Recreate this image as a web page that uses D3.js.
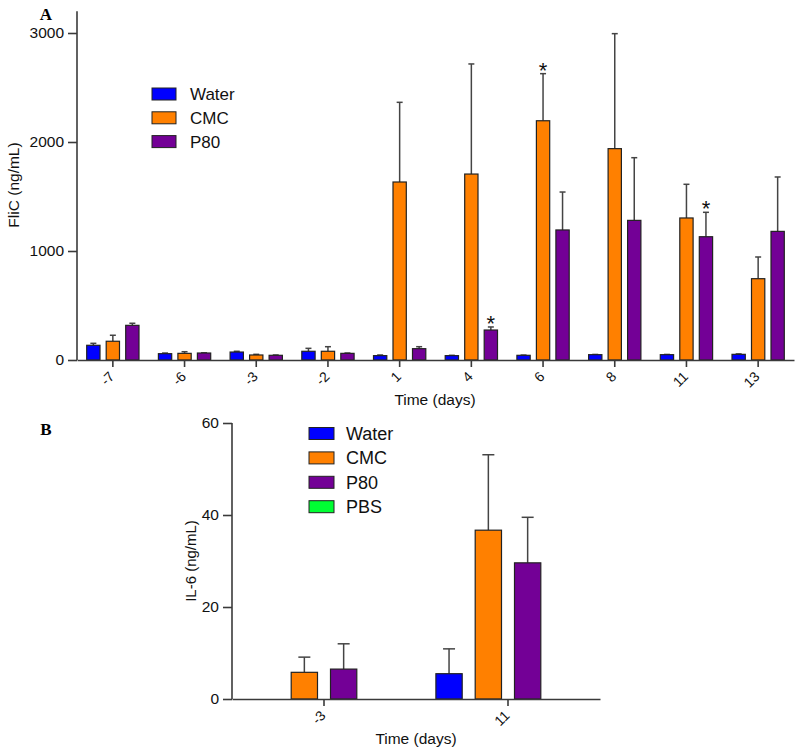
<!DOCTYPE html>
<html>
<head>
<meta charset="utf-8">
<script src="https://cdn.jsdelivr.net/npm/d3@7"></script>
<style>
  html, body { margin: 0; padding: 0; background: #fff; }
  svg { display: block; font-family: "Liberation Sans", Arial, sans-serif; }
</style>
</head>
<body>
<svg id="chart" width="800" height="754"></svg>
<script>
// ---------- Data ----------
const seriesA = ["Water", "CMC", "P80"];
const daysA = ["-7", "-6", "-3", "-2", "1", "4", "6", "8", "11", "13"];
const waterA = [135, 58, 73, 80, 40, 40, 43, 49, 49, 52];
const waterErrA = [153, 64, 80, 107, 46, 43, 45, 51, 51, 56];
const cmcA = [172, 61, 46, 80, 1633, 1706, 2195, 1939, 1303, 746];
const cmcErrA = [227, 76, 52, 122, 2364, 2716, 2627, 2994, 1612, 945];
const p80A = [318, 64, 43, 61, 104, 275, 1193, 1281, 1131, 1180];
const p80ErrA = [337, 66, 46, 64, 122, 303, 1541, 1856, 1355, 1679];
const starsA = [["4", "P80"], ["6", "CMC"], ["11", "P80"]];
const yTicksA = [0, 1000, 2000, 3000];

const seriesB = ["Water", "CMC", "P80", "PBS"];
const daysB = ["-3", "11"];
const waterB = [null, 5.5];
const waterErrB = [null, 10.9];
const cmcB = [5.8, 36.7];
const cmcErrB = [9.1, 53.1];
const p80B = [6.5, 29.6];
const p80ErrB = [12.0, 39.5];
const pbsB = [null, null];
const pbsErrB = [null, null];
const yTicksB = [0, 20, 40, 60];

const colors = { Water: "#0000ff", CMC: "#ff8000", P80: "#730096", PBS: "#00ff33" };
const axisColor = "#3a3a3a";

const svg = d3.select("#chart");

function panel(opts) {
  const g = svg.append("g");
  const { days, series, vals, errs, x0r, yDom, yRng, barW, step, capW, yTicks } = opts;
  const x0 = d3.scaleBand().domain(days).range(x0r).padding(0);
  const x1 = d3.scaleBand().domain(series)
    .range([-step * series.length / 2, step * series.length / 2])
    .paddingInner(1 - barW / step).paddingOuter((1 - barW / step) / 2);
  const y = d3.scaleLinear().domain(yDom).range(yRng);

  const rows = [];
  days.forEach((d, i) => series.forEach(s => {
    const v = vals[s][i];
    if (v != null) rows.push({ day: d, s, v, e: errs[s][i] });
  }));
  const cx = r => x0(r.day) + x0.bandwidth() / 2 + x1(r.s) + x1.bandwidth() / 2;

  // error bars (upward only)
  const eg = g.append("g").attr("stroke", "#444").attr("stroke-width", 1.5);
  rows.forEach(r => {
    eg.append("line").attr("x1", cx(r)).attr("x2", cx(r)).attr("y1", y(r.v)).attr("y2", y(r.e));
    eg.append("line").attr("x1", cx(r) - capW / 2).attr("x2", cx(r) + capW / 2).attr("y1", y(r.e)).attr("y2", y(r.e));
  });

  // bars
  g.append("g").selectAll("rect").data(rows).join("rect")
    .attr("x", r => cx(r) - x1.bandwidth() / 2)
    .attr("width", x1.bandwidth())
    .attr("y", r => y(r.v))
    .attr("height", r => y(0) - y(r.v))
    .attr("fill", r => colors[r.s])
    .attr("stroke", "#222").attr("stroke-width", 1.2);

  // y axis
  const ya = g.append("g").attr("transform", `translate(${x0r[0]},0)`)
    .call(d3.axisLeft(y).tickValues(yTicks).tickSize(9).tickPadding(4).tickFormat(d3.format("d")));
  ya.select(".domain").attr("stroke", axisColor).attr("stroke-width", 1.6).attr("d", `M0,${yRng[1]}V${yRng[0]}`);
  ya.selectAll(".tick line").attr("stroke", axisColor).attr("stroke-width", 1.6);
  ya.selectAll(".tick text").attr("font-size", 15.5).attr("fill", "#111")
    .attr("font-family", "'Liberation Sans', Arial, sans-serif");

  // x axis
  const xa = g.append("g").attr("transform", `translate(0,${yRng[0]})`)
    .call(d3.axisBottom(x0).tickSize(7).tickSizeOuter(0).tickFormat(""));
  xa.select(".domain").attr("stroke", axisColor).attr("stroke-width", 1.6);
  xa.selectAll(".tick line").attr("stroke", axisColor).attr("stroke-width", 1.6);
  g.append("g").selectAll("text").data(days).join("text")
    .attr("transform", d => `translate(${x0(d) + x0.bandwidth() / 2 - 1},${yRng[0] + 14}) rotate(-45)`)
    .attr("text-anchor", "end").attr("dy", "0.35em")
    .attr("font-size", 14).attr("fill", "#111").text(d => d);

  return { g, x0, x1, y, cx };
}

// ---------- Panel A ----------
const A = panel({
  days: daysA, series: seriesA,
  vals: { Water: waterA, CMC: cmcA, P80: p80A },
  errs: { Water: waterErrA, CMC: cmcErrA, P80: p80ErrA },
  x0r: [77, 794], yDom: [0, 3200], yRng: [360, 360 - 3200 * 0.109],
  barW: 13.3, step: 19.5, capW: 6, yTicks: yTicksA
});
starsA.forEach(([d, s]) => {
  const i = daysA.indexOf(d);
  const e = { Water: waterErrA, CMC: cmcErrA, P80: p80ErrA }[s][i];
  A.g.append("text").attr("x", A.cx({ day: d, s })).attr("y", A.y(e) + 4)
    .attr("text-anchor", "middle").attr("font-size", 22).attr("fill", "#111").text("*");
});
A.g.append("text").attr("transform", "translate(19,185) rotate(-90)").attr("text-anchor", "middle")
  .attr("font-size", 15.5).attr("fill", "#111").text("FliC (ng/mL)");
A.g.append("text").attr("x", 435).attr("y", 405).attr("text-anchor", "middle")
  .attr("font-size", 15.5).attr("fill", "#111").text("Time (days)");
svg.append("text").attr("x", 46).attr("y", 20).attr("text-anchor", "middle")
  .attr("font-family", "'Liberation Serif', 'Times New Roman', serif").attr("font-weight", "bold")
  .attr("font-size", 17).text("A");
const legA = svg.append("g");
seriesA.forEach((s, i) => {
  legA.append("rect").attr("x", 152).attr("y", 88 + i * 23.8).attr("width", 24).attr("height", 12)
    .attr("fill", colors[s]).attr("stroke", "#222").attr("stroke-width", 1);
  legA.append("text").attr("x", 190).attr("y", 94 + i * 23.8).attr("dy", "0.36em")
    .attr("font-size", 17).attr("fill", "#111").text(s);
});

// ---------- Panel B ----------
const B = panel({
  days: daysB, series: seriesB,
  vals: { Water: waterB, CMC: cmcB, P80: p80B, PBS: pbsB },
  errs: { Water: waterErrB, CMC: cmcErrB, P80: p80ErrB, PBS: pbsErrB },
  x0r: [232, 600], yDom: [0, 60], yRng: [699, 423],
  barW: 26.3, step: 39.3, capW: 12, yTicks: yTicksB
});
B.g.append("text").attr("transform", "translate(196,561) rotate(-90)").attr("text-anchor", "middle")
  .attr("font-size", 15).attr("fill", "#111").text("IL-6 (ng/mL)");
B.g.append("text").attr("x", 416).attr("y", 744).attr("text-anchor", "middle")
  .attr("font-size", 15.5).attr("fill", "#111").text("Time (days)");
svg.append("text").attr("x", 46).attr("y", 435).attr("text-anchor", "middle")
  .attr("font-family", "'Liberation Serif', 'Times New Roman', serif").attr("font-weight", "bold")
  .attr("font-size", 17).text("B");
const legB = svg.append("g");
seriesB.forEach((s, i) => {
  legB.append("rect").attr("x", 309).attr("y", 427.5 + i * 24.4).attr("width", 25).attr("height", 12)
    .attr("fill", colors[s]).attr("stroke", "#222").attr("stroke-width", 1);
  legB.append("text").attr("x", 346).attr("y", 433.5 + i * 24.4).attr("dy", "0.36em")
    .attr("font-size", 18).attr("fill", "#111").text(s);
});
</script>
</body>
</html>
